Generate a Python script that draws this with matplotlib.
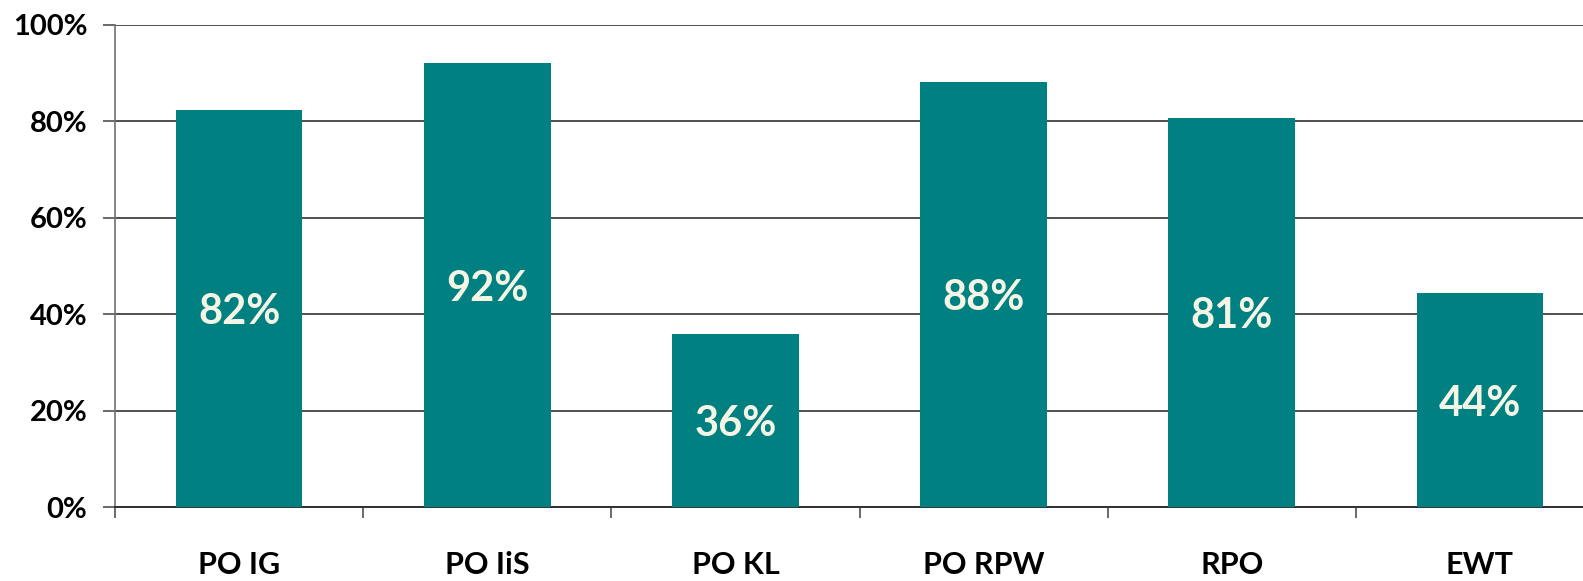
import matplotlib
matplotlib.use('Agg')
import matplotlib.pyplot as plt
from matplotlib.ticker import FixedLocator, PercentFormatter

categories = ['PO IG', 'PO IiS', 'PO KL', 'PO RPW', 'RPO', 'EWT']
values = [82.4, 92.1, 35.8, 88.2, 80.7, 44.3]
labels = ['82%', '92%', '36%', '88%', '81%', '44%']

plt.rcParams['font.family'] = ['Lato', 'DejaVu Sans']
plt.rcParams['font.weight'] = 'bold'

fig = plt.figure(figsize=(15.83, 5.81), dpi=100)
# plot area runs a bit past the right edge, like in the original
ax = fig.add_axes([115 / 1583, 74 / 581, 1489 / 1583, 482 / 581])

x = list(range(len(categories)))
ax.bar(x, values, width=0.51, color='#008080', zorder=3)

for xi, v, lab in zip(x, values, labels):
    ax.text(xi, v / 2, lab, ha='center', va='center_baseline', color='#F5F5E6',
            fontsize=30, fontweight='bold', zorder=4)

ax.set_xlim(-0.5, len(categories) - 0.5)
ax.set_ylim(0, 100)
ax.set_yticks([0, 20, 40, 60, 80, 100])
ax.yaxis.set_major_formatter(PercentFormatter(decimals=0))
ax.yaxis.grid(True, color='#505050', linewidth=1.4, zorder=0)
ax.set_axisbelow(True)

ax.set_xticks(x)
ax.set_xticklabels(categories)
ax.xaxis.set_minor_locator(FixedLocator([i + 0.5 for i in range(-1, len(categories))]))
ax.tick_params(axis='x', which='major', length=0, pad=32, labelsize=22)
ax.tick_params(axis='x', which='minor', length=8, width=1.2, color='#505050')
ax.tick_params(axis='y', length=9, width=1.2, color='#505050', pad=11, labelsize=21)

for side in ['top', 'right']:
    ax.spines[side].set_visible(False)
ax.spines['left'].set_color('#707070')
ax.spines['left'].set_linewidth(1.2)
ax.spines['bottom'].set_color('#303030')
ax.spines['bottom'].set_linewidth(1.4)

fig.savefig('out.png', dpi=100)
